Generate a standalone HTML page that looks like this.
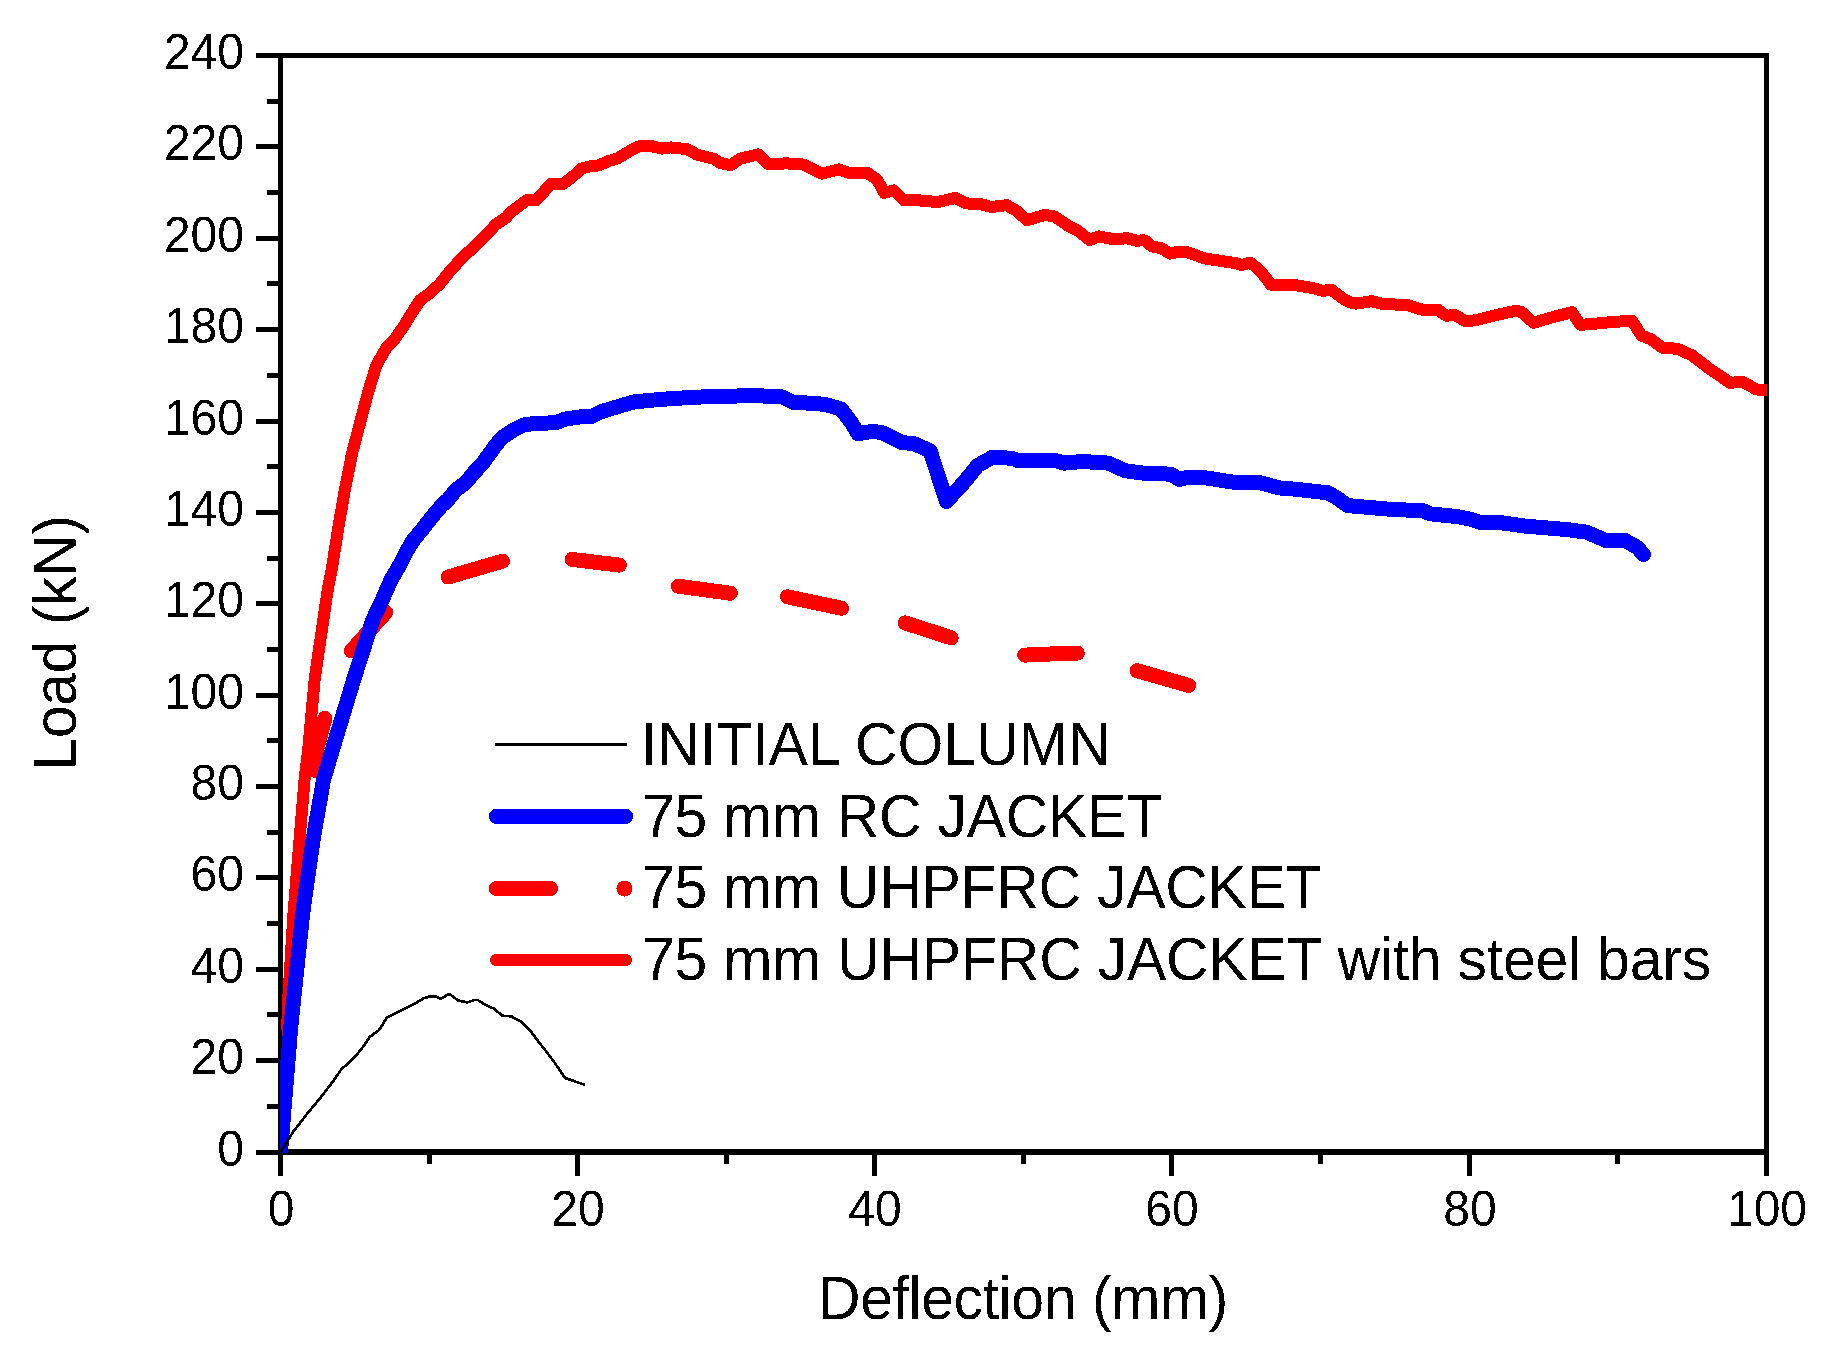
<!DOCTYPE html>
<html><head><meta charset="utf-8"><style>
html,body{margin:0;padding:0;background:#fff;}
svg{display:block;}
text{font-family:"Liberation Sans",Arial,sans-serif;fill:#000;}
</style></head><body>
<svg width="1835" height="1363" viewBox="0 0 1835 1363">
<rect width="1835" height="1363" fill="#fff"/>
<g stroke="#000" stroke-width="5" fill="none" shape-rendering="crispEdges">
<path d="M280.5,1152 V55.5 H1766.5 V1152"/><rect x="278" y="1149" width="1491" height="6" fill="#000" stroke="none"/>
<line x1="256" y1="1152.0" x2="281" y2="1152.0"/><line x1="267" y1="1106.3" x2="281" y2="1106.3"/><line x1="256" y1="1060.6" x2="281" y2="1060.6"/><line x1="267" y1="1014.9" x2="281" y2="1014.9"/><line x1="256" y1="969.3" x2="281" y2="969.3"/><line x1="267" y1="923.6" x2="281" y2="923.6"/><line x1="256" y1="877.9" x2="281" y2="877.9"/><line x1="267" y1="832.2" x2="281" y2="832.2"/><line x1="256" y1="786.5" x2="281" y2="786.5"/><line x1="267" y1="740.8" x2="281" y2="740.8"/><line x1="256" y1="695.1" x2="281" y2="695.1"/><line x1="267" y1="649.4" x2="281" y2="649.4"/><line x1="256" y1="603.8" x2="281" y2="603.8"/><line x1="267" y1="558.1" x2="281" y2="558.1"/><line x1="256" y1="512.4" x2="281" y2="512.4"/><line x1="267" y1="466.7" x2="281" y2="466.7"/><line x1="256" y1="421.0" x2="281" y2="421.0"/><line x1="267" y1="375.3" x2="281" y2="375.3"/><line x1="256" y1="329.6" x2="281" y2="329.6"/><line x1="267" y1="283.9" x2="281" y2="283.9"/><line x1="256" y1="238.3" x2="281" y2="238.3"/><line x1="267" y1="192.6" x2="281" y2="192.6"/><line x1="256" y1="146.9" x2="281" y2="146.9"/><line x1="267" y1="101.2" x2="281" y2="101.2"/><line x1="256" y1="55.5" x2="281" y2="55.5"/><line x1="280.5" y1="1152" x2="280.5" y2="1176"/><line x1="429.5" y1="1152" x2="429.5" y2="1163.5"/><line x1="577.5" y1="1152" x2="577.5" y2="1176"/><line x1="726.5" y1="1152" x2="726.5" y2="1163.5"/><line x1="874.5" y1="1152" x2="874.5" y2="1176"/><line x1="1023.5" y1="1152" x2="1023.5" y2="1163.5"/><line x1="1171.5" y1="1152" x2="1171.5" y2="1176"/><line x1="1320.5" y1="1152" x2="1320.5" y2="1163.5"/><line x1="1469.5" y1="1152" x2="1469.5" y2="1176"/><line x1="1617.5" y1="1152" x2="1617.5" y2="1163.5"/><line x1="1766.5" y1="1152" x2="1766.5" y2="1176"/>
</g>
<defs><clipPath id="pc"><rect x="280" y="55.5" width="1487" height="1097.5"/></clipPath>
<filter id="bin" x="0" y="0" width="1835" height="1363" filterUnits="userSpaceOnUse"><feComponentTransfer><feFuncA type="discrete" tableValues="0 1"/></feComponentTransfer></filter></defs>
<g clip-path="url(#pc)" fill="none" stroke-linejoin="round" stroke-linecap="round" shape-rendering="crispEdges">
<path d="M280.5,1152.0 L289.5,1045.0 L287.3,1028.0 L287.5,1020.0 L288.2,1000.0 L288.8,990.0 L293.5,913.3 L304.5,780.0 L308.0,751.4 L314.8,678.0 L327.7,590.0 L331.6,570.0 L339.0,523.6 L345.1,488.4 L352.1,453.2 L361.3,418.0 L368.3,391.6 L376.4,365.2 L386.5,347.6 L393.5,340.8 L404.1,325.6 L413.5,310.3 L420.5,299.8 L428.7,293.9 L439.3,284.5 L448.7,272.8 L458.1,262.2 L467.5,252.8 L476.9,244.6 L487.4,234.0 L495.6,224.6 L506.2,217.6 L510.0,212.7 L519.6,205.5 L526.8,200.1 L536.4,200.1 L550.8,184.0 L562.8,184.0 L571.2,178.0 L581.9,168.4 L591.5,166.0 L598.7,165.4 L608.3,161.2 L617.9,158.2 L629.9,151.0 L638.3,146.5 L651.5,146.2 L662.3,148.6 L670.7,147.4 L687.5,149.2 L697.0,154.6 L713.8,158.8 L720.0,162.8 L730.8,165.2 L740.4,158.6 L758.4,154.4 L768.0,164.0 L787.1,163.4 L803.9,164.6 L821.9,173.6 L838.7,169.4 L849.5,173.0 L867.5,173.0 L877.1,179.6 L884.3,192.8 L893.9,190.4 L903.5,200.0 L923.8,200.6 L937.2,202.2 L955.2,198.0 L966.0,203.4 L980.4,204.0 L991.2,207.0 L1006.7,205.2 L1016.3,210.6 L1027.1,220.2 L1045.1,214.8 L1054.7,216.6 L1067.9,225.6 L1077.5,230.4 L1089.5,240.0 L1099.1,236.4 L1114.7,239.4 L1126.7,238.2 L1136.2,240.6 L1144.8,240.4 L1152.0,246.4 L1161.6,248.2 L1170.0,253.6 L1178.4,251.8 L1188.0,252.4 L1204.7,258.4 L1223.9,261.4 L1235.9,263.2 L1241.9,265.0 L1250.3,262.6 L1259.9,270.4 L1267.1,279.4 L1270.7,284.7 L1295.9,285.3 L1313.9,288.3 L1322.3,290.7 L1331.8,290.1 L1343.8,299.1 L1351.0,302.7 L1356.0,303.6 L1371.6,301.2 L1383.6,304.2 L1406.4,304.8 L1421.9,309.6 L1438.7,310.2 L1445.9,315.6 L1455.5,315.3 L1465.1,321.0 L1474.7,320.4 L1493.9,315.6 L1515.5,310.8 L1521.5,312.0 L1533.5,322.8 L1553.8,316.8 L1572.0,312.2 L1580.4,324.8 L1590.0,324.2 L1608.0,322.4 L1632.0,320.6 L1641.5,335.6 L1651.1,339.2 L1661.9,347.6 L1677.5,348.8 L1691.9,355.3 L1709.9,369.1 L1730.3,382.9 L1742.3,381.7 L1756.6,389.5 L1772.0,390.1" stroke="#f00" stroke-width="12"/>
<g stroke="#f00" stroke-width="15"><path d="M309.5,776.5 L324.9,718.4" stroke-linecap="butt"/><circle cx="324.9" cy="718.4" r="7.5" fill="#f00" stroke="none"/><path d="M351.3,650.9 L385.8,612.3"/><path d="M448.2,577.0 L502.5,561.2"/><path d="M572.1,559.4 L592.5,561.9 L619.5,565.1"/><path d="M678.3,586.2 L730.3,593.2"/><path d="M787.5,596.8 L841.5,608.2"/><path d="M905.2,622.9 L951.2,637.8"/><path d="M1024.7,655.1 L1050.0,654.0 L1077.3,653.2"/><path d="M1137.0,670.7 L1188.8,685.4"/></g>
<path d="M280.5,1152.0 L290.7,1027.6 L302.7,913.3 L313.0,840.0 L323.5,780.0 L331.9,751.4 L354.2,678.0 L372.8,620.0 L382.2,600.0 L391.0,580.0 L399.9,564.6 L405.8,552.8 L412.6,541.1 L422.3,529.3 L431.4,517.6 L441.4,505.9 L448.5,499.2 L455.5,490.4 L466.8,481.6 L473.8,472.8 L482.2,464.0 L488.5,455.2 L494.9,446.4 L502.0,437.6 L512.1,430.8 L523.8,424.9 L534.1,423.5 L556.1,422.7 L564.9,419.1 L580.0,416.9 L591.3,416.6 L601.1,411.7 L619.0,406.3 L633.8,401.9 L651.7,400.2 L671.4,398.6 L700.8,397.0 L733.5,396.2 L749.8,395.3 L782.5,397.0 L794.0,402.7 L802.1,402.7 L825.0,404.3 L841.4,409.2 L851.2,422.3 L858.2,433.7 L872.9,431.3 L882.7,432.9 L902.3,442.7 L913.8,443.5 L930.1,450.9 L946.5,501.5 L964.4,481.9 L977.5,465.6 L992.2,457.4 L1011.8,458.2 L1018.4,460.7 L1056.0,460.7 L1064.2,463.1 L1082.1,461.5 L1108.3,463.1 L1124.6,470.5 L1140.0,472.9 L1171.1,474.2 L1179.2,479.4 L1189.0,477.0 L1205.4,477.8 L1234.8,482.4 L1259.3,482.4 L1279.0,487.9 L1295.3,489.2 L1328.0,492.8 L1336.2,497.4 L1347.6,505.6 L1357.4,506.4 L1385.2,508.9 L1409.7,510.2 L1422.8,510.5 L1430.0,513.8 L1457.2,516.6 L1470.9,519.3 L1480.4,522.4 L1500.8,522.7 L1525.4,526.1 L1541.7,527.5 L1566.2,529.5 L1586.7,532.2 L1605.7,540.4 L1624.8,540.4 L1637.1,547.2 L1643.5,554.5" stroke="#00f" stroke-width="15"/>
<path d="M280.7,1152.0 L293.2,1131.8 L306.4,1114.7 L319.6,1098.8 L332.8,1081.7 L342.0,1068.4 L347.3,1064.5 L355.2,1056.6 L361.8,1048.6 L369.8,1036.8 L379.0,1030.2 L386.9,1017.6 L398.8,1011.7 L412.0,1005.1 L420.0,1000.6 L423.9,998.2 L430.8,996.2 L434.7,996.2 L440.6,998.6 L449.4,994.0 L458.3,1000.6 L467.1,1002.4 L474.0,1000.1 L477.9,1000.1 L484.8,1004.5 L493.6,1008.5 L502.4,1015.8 L511.3,1016.3 L521.1,1021.7 L529.9,1030.0 L537.8,1040.8 L545.6,1050.7 L554.4,1062.4 L565.2,1078.1 L571.1,1080.1 L583.9,1084.5" stroke="#000" stroke-width="2.7"/>
</g>
<g font-size="48" filter="url(#bin)"><text transform="translate(244,1165.5) scale(1,1.06)" text-anchor="end">0</text><text transform="translate(244,1074.1) scale(1,1.06)" text-anchor="end">20</text><text transform="translate(244,982.8) scale(1,1.06)" text-anchor="end">40</text><text transform="translate(244,891.4) scale(1,1.06)" text-anchor="end">60</text><text transform="translate(244,800.0) scale(1,1.06)" text-anchor="end">80</text><text transform="translate(244,708.6) scale(1,1.06)" text-anchor="end">100</text><text transform="translate(244,617.3) scale(1,1.06)" text-anchor="end">120</text><text transform="translate(244,525.9) scale(1,1.06)" text-anchor="end">140</text><text transform="translate(244,434.5) scale(1,1.06)" text-anchor="end">160</text><text transform="translate(244,343.1) scale(1,1.06)" text-anchor="end">180</text><text transform="translate(244,251.8) scale(1,1.06)" text-anchor="end">200</text><text transform="translate(244,160.4) scale(1,1.06)" text-anchor="end">220</text><text transform="translate(244,69.0) scale(1,1.06)" text-anchor="end">240</text><text transform="translate(281.0,1226) scale(1,1.06)" text-anchor="middle">0</text><text transform="translate(578.0,1226) scale(1,1.06)" text-anchor="middle">20</text><text transform="translate(875.0,1226) scale(1,1.06)" text-anchor="middle">40</text><text transform="translate(1172.0,1226) scale(1,1.06)" text-anchor="middle">60</text><text transform="translate(1470.0,1226) scale(1,1.06)" text-anchor="middle">80</text><text transform="translate(1767.0,1226) scale(1,1.06)" text-anchor="middle">100</text></g>
<g fill="none" shape-rendering="crispEdges">
<line x1="495" y1="744.5" x2="627" y2="744.5" stroke="#000" stroke-width="3"/>
<line x1="496.4" y1="816.4" x2="625.6" y2="816.4" stroke="#00f" stroke-width="15" stroke-linecap="round"/>
<line x1="496.3" y1="888.5" x2="550.5" y2="888.5" stroke="#f00" stroke-width="15" stroke-linecap="round"/>
<circle cx="624.5" cy="888.5" r="8" fill="#f00"/>
<line x1="496" y1="960" x2="626" y2="960" stroke="#f00" stroke-width="12" stroke-linecap="round"/>
</g>
<g font-size="59" filter="url(#bin)">
<text transform="translate(640.90,765) scale(1,1.0244)" textLength="469.63" lengthAdjust="spacing">INITIAL COLUMN</text>
<text transform="translate(641.90,837) scale(1,1.0244)" textLength="520.28" lengthAdjust="spacing">75 mm RC JACKET</text>
<text transform="translate(641.90,908) scale(1,1.0244)" textLength="679.88" lengthAdjust="spacing">75 mm UHPFRC JACKET</text>
<text transform="translate(641.90,980) scale(1,1.0244)" textLength="1069.26" lengthAdjust="spacing">75 mm UHPFRC JACKET with steel bars</text>
<text transform="translate(818.00,1319) scale(1,1.0244)" textLength="410.31" lengthAdjust="spacing">Deflection (mm)</text>
<text transform="translate(76,770.60) rotate(-90) scale(1,1.0244)" textLength="255.62" lengthAdjust="spacing">Load (kN)</text>
</g>
</svg>
</body></html>
